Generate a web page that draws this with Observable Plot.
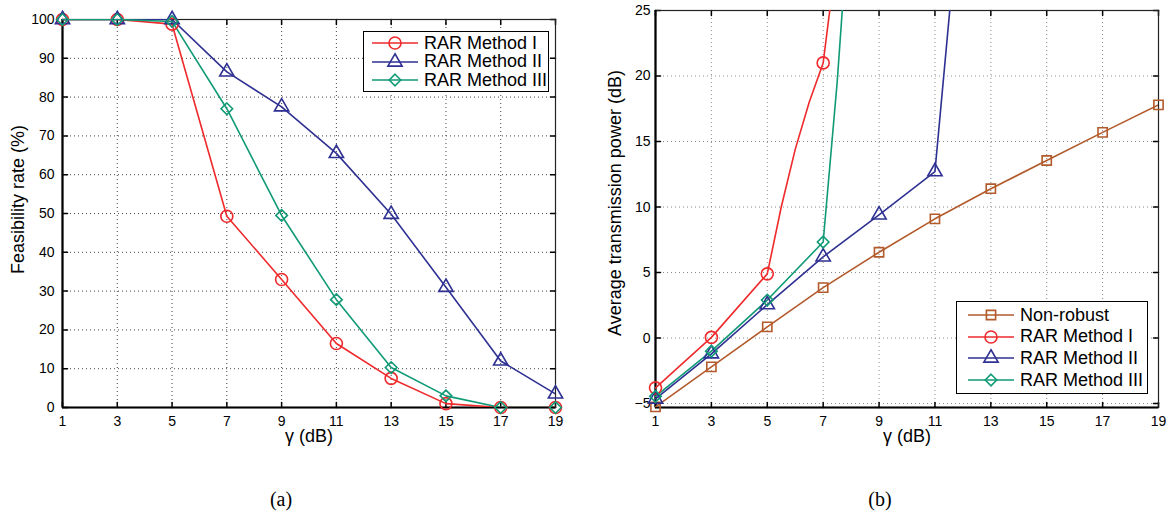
<!DOCTYPE html>
<html>
<head>
<meta charset="utf-8">
<script src="https://cdn.jsdelivr.net/npm/d3@7"></script>
<script src="https://cdn.jsdelivr.net/npm/@observablehq/plot@0.6"></script>
<style>
  html, body { margin: 0; padding: 0; background: #fff; }
  body { width: 1168px; height: 512px; position: relative; overflow: hidden;
         font-family: "Liberation Sans", Arial, Helvetica, sans-serif; }
  .panel { position: absolute; top: 0; }
  .legend { position: absolute; border: 1.5px solid #000; background: #fff; box-sizing: border-box; }
  .row { position: absolute; display: flex; align-items: center; height: 20px; font-size: 18px; color: #000; white-space: nowrap; }
  .row svg { display: block; margin-right: 6px; }
  .caption { position: absolute; font-family: "Liberation Serif", "Times New Roman", serif; font-size: 20px; transform: translate(-50%, -50%); }
</style>
</head>
<body>
<div id="a" class="panel" style="left:0px"></div>
<div id="b" class="panel" style="left:590px"></div>
<div class="caption" style="left:281px;top:499px">(a)</div>
<div class="caption" style="left:880px;top:499px">(b)</div>
<script>
// ---------- data ----------
const gamma = [1, 3, 5, 7, 9, 11, 13, 15, 17, 19];

// (a) Feasibility rate (%)
const feasI   = [100, 100, 98.8, 49.3, 33, 16.5, 7.5, 1, 0, 0];
const feasII  = [100, 100, 100, 86.5, 77.5, 65.5, 49.8, 31, 12, 3.5];
const feasIII = [100, 100, 99.5, 77, 49.5, 27.8, 10.3, 3, 0, 0];
const feasTicks = [0, 10, 20, 30, 40, 50, 60, 70, 80, 90, 100];

// (b) Average transmission power (dB)
const powNonRobust = [-5.25, -2.2, 0.85, 3.85, 6.55, 9.1, 11.4, 13.55, 15.7, 17.8];
// curves (markers drawn at odd gamma only)
const gammaPowI   = [1, 3, 5, 5.5, 6, 6.5, 7, 7.5];
const powI        = [-3.8, 0.05, 4.9, 10.0, 14.4, 18.0, 21, 29.5];
const gammaPowII  = [1, 3, 5, 7, 9, 11, 11.5, 12];
const powII       = [-4.65, -1.2, 2.55, 6.2, 9.4, 12.7, 24.3, 36];
const gammaPowIII = [1, 3, 5, 7, 7.5, 8];
const powIII      = [-4.45, -1.0, 2.9, 7.33, 19.5, 34.5];
const powTicks = [-5, 0, 5, 10, 15, 20, 25];

const names = ["Non-robust", "RAR Method I", "RAR Method II", "RAR Method III"];
const colors = {"Non-robust": "#b35a2b", "RAR Method I": "#ee2a2c", "RAR Method II": "#2e3192", "RAR Method III": "#109a76"};
const symbols = {"Non-robust": "square", "RAR Method I": "circle", "RAR Method II": "triangle", "RAR Method III": "diamond2"};
const sizes = {"Non-robust": 5.2, "RAR Method I": 6, "RAR Method II": 5.3, "RAR Method III": 5.2};

// ---------- helpers ----------
const tickShape = {draw(ctx, l) { ctx.moveTo(0, 0); ctx.lineTo(0, -l); }};
const fmt = d => d < 0 ? "\u2212" + Math.abs(d) : String(d);

function toRows(xs, ys, name) { return xs.map((x, i) => ({x, y: ys[i], name})); }
const isMarker = d => Number.isInteger(d.x) && d.x % 2 === 1;

function panel({series, yDomain, yTicks, width, marginLeft, marginRight, marginTop, marginBottom, ylabel, ylabelDx, ylabelDy, gridColor, yPad}) {
  const xDomain = [1, 19];
  const marks = [
    Plot.gridX(gamma, {stroke: gridColor, strokeOpacity: 1, strokeDasharray: "1,3"}),
    Plot.gridY(yTicks, {stroke: gridColor, strokeOpacity: 1, strokeDasharray: "1,3"}),
    // inward ticks on all four sides
    Plot.vector(gamma, {x: d => d, y: () => yDomain[0], length: 5, rotate: 0, anchor: "start", shape: tickShape, stroke: "#000"}),
    Plot.vector(gamma, {x: d => d, y: () => yDomain[1], length: 5, rotate: 180, anchor: "start", shape: tickShape, stroke: "#000"}),
    Plot.vector(yTicks, {x: () => xDomain[0], y: d => d, length: 5, rotate: 90, anchor: "start", shape: tickShape, stroke: "#000"}),
    Plot.vector(yTicks, {x: () => xDomain[1], y: d => d, length: 5, rotate: -90, anchor: "start", shape: tickShape, stroke: "#000"}),
    Plot.frame({stroke: "#222", strokeWidth: 1.2}),
    Plot.ruleX([xDomain[0]], {stroke: "#000", strokeWidth: 2.2}),
    Plot.ruleY([yDomain[0]], {stroke: "#000", strokeWidth: 2.2}),
    // tick labels
    Plot.text(gamma, {x: d => d, y: () => yDomain[0], text: fmt, dy: 14, fontSize: 14, fill: "#000", textAnchor: "middle"}),
    Plot.text(yTicks, {x: () => xDomain[0], y: d => d, text: fmt, dx: -yPad, fontSize: 14, fill: "#000", textAnchor: "end"}),
    // axis titles
    Plot.text(["\u03B3 (dB)"], {frameAnchor: "bottom", textAnchor: "middle", dy: 34, fontSize: 18, fill: "#000"}),
    Plot.text([ylabel], {frameAnchor: "left", textAnchor: "middle", dx: ylabelDx, dy: ylabelDy, rotate: -90, fontSize: 18, fill: "#000"})
  ];
  for (const s of series) {
    const name = s[0].name;
    marks.push(Plot.line(s, {x: "x", y: "y", stroke: colors[name], strokeWidth: 1.6, clip: true}));
  }
  for (const s of series) {
    const name = s[0].name;
    marks.push(Plot.dot(s.filter(isMarker), {x: "x", y: "y", stroke: colors[name], strokeWidth: 1.6, fill: "none", symbol: symbols[name], r: sizes[name]}));
  }
  return Plot.plot({
    width, height: 460, marginLeft, marginRight, marginTop, marginBottom,
    style: {fontFamily: "'Liberation Sans', Arial, Helvetica, sans-serif", color: "#000", background: "#fff", overflow: "visible"},
    x: {domain: xDomain, axis: null},
    y: {domain: yDomain, axis: null},
    marks
  });
}

// ---------- panel (a) ----------
const seriesA = [
  toRows(gamma, feasI, "RAR Method I"),
  toRows(gamma, feasII, "RAR Method II"),
  toRows(gamma, feasIII, "RAR Method III")
];
document.getElementById("a").append(panel({
  series: seriesA, yDomain: [0, 100], yTicks: feasTicks,
  width: 590, marginLeft: 62, marginRight: 35, marginTop: 19, marginBottom: 53,
  ylabel: "Feasibility rate (%)", ylabelDx: -44, ylabelDy: -14, gridColor: "#444", yPad: 8
}));

// ---------- panel (b) ----------
const seriesB = [
  toRows(gamma, powNonRobust, "Non-robust"),
  toRows(gammaPowI, powI, "RAR Method I"),
  toRows(gammaPowII, powII, "RAR Method II"),
  toRows(gammaPowIII, powIII, "RAR Method III")
];
document.getElementById("b").append(panel({
  series: seriesB, yDomain: [-5.3, 25], yTicks: powTicks,
  width: 578, marginLeft: 65, marginRight: 10, marginTop: 10, marginBottom: 53,
  ylabel: "Average transmission power (dB)", ylabelDx: -40, ylabelDy: -6, gridColor: "#8a8a8a", yPad: 5
}));

// ---------- legends (HTML) ----------
function legend({left, top, width, height, items, rowTop, rowStep, rowLeft}) {
  const box = document.createElement("div");
  box.className = "legend";
  Object.assign(box.style, {left: left + "px", top: top + "px", width: width + "px", height: height + "px"});
  items.forEach((name, i) => {
    const row = document.createElement("div");
    row.className = "row";
    row.style.left = rowLeft + "px";
    row.style.top = (rowTop + i * rowStep - 10) + "px";
    const svg = d3.create("svg").attr("width", 46).attr("height", 20);
    svg.append("line").attr("x1", 0).attr("x2", 46).attr("y1", 10).attr("y2", 10)
      .attr("stroke", colors[name]).attr("stroke-width", 1.6);
    const symMap = {circle: d3.symbolCircle, triangle: d3.symbolTriangle, diamond2: d3.symbolDiamond2, square: d3.symbolSquare};
    const r = sizes[name];
    svg.append("path").attr("transform", "translate(23,10)")
      .attr("d", d3.symbol(symMap[symbols[name]], r * r * Math.PI)())
      .attr("fill", "none").attr("stroke", colors[name]).attr("stroke-width", 1.6);
    row.append(svg.node());
    const span = document.createElement("span");
    span.textContent = name;
    row.append(span);
    box.append(row);
  });
  document.body.append(box);
}
legend({left: 363, top: 31, width: 186, height: 61, items: names.slice(1), rowTop: 11, rowStep: 18.5, rowLeft: 8});
legend({left: 956, top: 301, width: 192, height: 93, items: names, rowTop: 13, rowStep: 21.7, rowLeft: 11});
</script>
</body>
</html>
